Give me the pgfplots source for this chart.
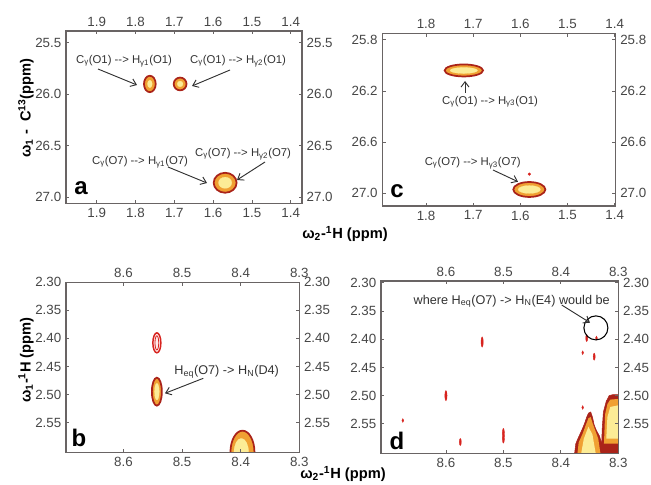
\documentclass[border=0pt]{standalone}
\usepackage{pgfplots}
\pgfplotsset{compat=1.18}
\usepackage{fontspec}
\setmainfont{Liberation Sans}
\usetikzlibrary{arrows.meta}
\definecolor{dred}{RGB}{170,35,25}
\definecolor{ora}{RGB}{240,160,50}
\definecolor{yel}{RGB}{252,236,150}
\definecolor{boxc}{RGB}{105,100,100}
\definecolor{tkc}{RGB}{70,70,70}
\definecolor{anc}{RGB}{50,50,50}
\definecolor{nred}{RGB}{215,35,30}
\pgfplotsset{
  panel/.style={
    scale only axis, anchor=north west,
    x dir=reverse, y dir=reverse,
    axis line style={boxc, line width=1.1pt},
    tick style={boxc, line width=0.6pt},
    major tick length=2.5pt,
    tick align=inside,
    ticklabel style={font=\fontsize{10}{11}\selectfont, text=tkc},
    /pgf/number format/assume math mode=true,
    xticklabel pos=lower, yticklabel pos=left,
    clip marker paths=true,
  },
  upper/.style={panel, xticklabel pos=upper, yticklabel pos=right},
  pk/.style={only marks, mark=*, mark options={draw=dred, fill=ora, line width=1.3pt, #1}},
  pk/.default={},
  pc/.style={only marks, mark=*, mark options={draw=yel, fill=yel, line width=0.1pt, #1}},
  pc/.default={},
  dash/.style={only marks, color=nred, mark=*, mark options={draw=nred, fill=nred, line width=0.3pt, yscale=#1}},
}
\begin{document}
\begin{tikzpicture}
\useasboundingbox (0,0) rectangle (488.25pt,-363.75pt);

% ---------- panel a ----------
\begin{axis}[panel, at={(49.5pt,-23.25pt)}, width=177pt, height=129.2pt,
  xmin=1.371, xmax=1.979, ymin=25.386, ymax=27.058,
  xtick={1.4,1.5,1.6,1.7,1.8,1.9}, xticklabels={1.4,1.5,1.6,1.7,1.8,1.9},
  ytick={25.5,26,26.5,27}, yticklabels={25.5,26.0,26.5,27.0}]
\addplot[pk={yscale=1.4}, mark size=4.4pt] coordinates {(1.763,25.90)};
\addplot[pc={yscale=1.6}, mark size=1.8pt] coordinates {(1.763,25.90)};
\addplot[pk, mark size=4.8pt] coordinates {(1.685,25.90)};
\addplot[pc, mark size=2.2pt] coordinates {(1.685,25.90)};
\addplot[pk={yscale=0.87}, mark size=8.6pt] coordinates {(1.569,26.859)};
\addplot[pc={yscale=0.85}, mark size=5pt] coordinates {(1.569,26.859)};
\end{axis}
\begin{axis}[upper, at={(49.5pt,-23.25pt)}, width=177pt, height=129.2pt,
  xmin=1.371, xmax=1.979, ymin=25.386, ymax=27.058,
  xtick={1.4,1.5,1.6,1.7,1.8,1.9}, xticklabels={1.4,1.5,1.6,1.7,1.8,1.9},
  ytick={25.5,26,26.5,27}, yticklabels={25.5,26.0,26.5,27.0}]
\end{axis}

% ---------- panel c ----------
\begin{axis}[panel, at={(286.7pt,-25pt)}, width=175pt, height=129.5pt,
  xmin=1.398, xmax=1.893, ymin=25.75, ymax=27.099,
  xtick={1.4,1.5,1.6,1.7,1.8}, xticklabels={1.4,1.5,1.6,1.7,1.8},
  ytick={25.8,26.2,26.6,27.0}, yticklabels={25.8,26.2,26.6,27.0}]
\addplot[pk={xscale=3.2}, mark size=4.5pt] coordinates {(1.72,26.04)};
\addplot[pc={xscale=4.5}, mark size=2.3pt] coordinates {(1.72,26.04)};
\addplot[pk={xscale=2.15}, mark size=5.6pt] coordinates {(1.581,26.97)};
\addplot[pc={xscale=2.8}, mark size=3pt] coordinates {(1.581,26.97)};
\addplot[dash=1, mark size=1pt] coordinates {(1.581,26.85)};
\end{axis}
\begin{axis}[upper, at={(286.7pt,-25pt)}, width=175pt, height=129.5pt,
  xmin=1.398, xmax=1.893, ymin=25.75, ymax=27.099,
  xtick={1.4,1.5,1.6,1.7,1.8}, xticklabels={1.4,1.5,1.6,1.7,1.8},
  ytick={25.8,26.2,26.6,27.0}, yticklabels={25.8,26.2,26.6,27.0}]
\end{axis}

% ---------- panel b ----------
\begin{axis}[panel, at={(49.5pt,-211.7pt)}, width=175pt, height=127.5pt,
  xmin=8.3, xmax=8.698, ymin=2.30, ymax=2.603,
  xtick={8.3,8.4,8.5,8.6}, xticklabels={8.3,8.4,8.5,8.6},
  ytick={2.30,2.35,2.40,2.45,2.50,2.55}, yticklabels={2.30,2.35,2.40,2.45,2.50,2.55}]
\addplot[only marks, color=nred, mark=*, mark size=3pt, mark options={yscale=2.5, draw=nred, fill=red!8, line width=1.1pt}] coordinates {(8.543,2.408)};
\addplot[only marks, color=nred, mark=o, mark size=1.4pt, mark options={yscale=3.8, draw=nred, line width=0.6pt}] coordinates {(8.543,2.408)};
\addplot[pk={yscale=2.8}, mark size=3.75pt] coordinates {(8.543,2.495)};
\addplot[pc={yscale=3.5}, mark size=1.8pt] coordinates {(8.543,2.495)};
\addplot[pk={yscale=1.8}, mark size=9pt] coordinates {(8.397,2.603)};
\addplot[pc={yscale=1.9}, mark size=5.5pt] coordinates {(8.399,2.603)};
\end{axis}
\begin{axis}[upper, at={(49.5pt,-211.7pt)}, width=175pt, height=127.5pt,
  xmin=8.3, xmax=8.698, ymin=2.30, ymax=2.603,
  xtick={8.3,8.4,8.5,8.6}, xticklabels={8.3,8.4,8.5,8.6},
  ytick={2.30,2.35,2.40,2.45,2.50,2.55}, yticklabels={2.30,2.35,2.40,2.45,2.50,2.55}]
\end{axis}

% ---------- panel d ----------
\begin{axis}[panel, at={(285.75pt,-210.75pt)}, width=178pt, height=129.2pt,
  xmin=8.3, xmax=8.713, ymin=2.297, ymax=2.602,
  xtick={8.3,8.4,8.5,8.6}, xticklabels={8.3,8.4,8.5,8.6},
  ytick={2.30,2.35,2.40,2.45,2.50,2.55}, yticklabels={2.30,2.35,2.40,2.45,2.50,2.55}]
% flame-like blobs
\addplot[fill=dred, draw=dred] coordinates {(8.377,2.61)(8.374,2.585)(8.369,2.573)(8.364,2.562)(8.359,2.550)(8.355,2.538)(8.352,2.531)(8.348,2.529)(8.345,2.538)(8.342,2.552)(8.338,2.562)(8.333,2.571)(8.330,2.581)(8.326,2.590)(8.324,2.61)} --cycle;
\addplot[fill=ora, draw=none] coordinates {(8.372,2.61)(8.369,2.583)(8.362,2.567)(8.357,2.553)(8.352,2.540)(8.348,2.538)(8.345,2.548)(8.340,2.562)(8.335,2.576)(8.330,2.61)} --cycle;
\addplot[fill=yel, draw=none] coordinates {(8.366,2.61)(8.360,2.576)(8.352,2.555)(8.345,2.569)(8.338,2.61)} --cycle;
\addplot[fill=dred, draw=dred] coordinates {(8.330,2.61)(8.328,2.558)(8.326,2.529)(8.321,2.510)(8.316,2.500)(8.309,2.498)(8.29,2.498)(8.29,2.61)} --cycle;
\addplot[fill=ora, draw=none] coordinates {(8.325,2.585)(8.323,2.533)(8.319,2.515)(8.314,2.507)(8.29,2.505)(8.29,2.585)} --cycle;
\addplot[fill=yel, draw=none] coordinates {(8.321,2.576)(8.319,2.538)(8.314,2.520)(8.29,2.515)(8.29,2.576)} --cycle;
% weak noise peaks
\addplot[dash=4.5, mark size=0.85pt] coordinates {(8.537,2.405)(8.600,2.500)};
\addplot[dash=6.5, mark size=0.85pt] coordinates {(8.500,2.571)};
\addplot[dash=3.5, mark size=0.75pt] coordinates {(8.575,2.582)(8.342,2.431)(8.355,2.398)};
\addplot[dash=2, mark size=0.7pt] coordinates {(8.675,2.544)(8.362,2.424)(8.362,2.521)(8.338,2.398)};
% empty circle where the missing peak would be
\addplot[only marks, color=black, mark=o, mark size=9pt, mark options={draw=black, line width=0.8pt}] coordinates {(8.339,2.380)};
\end{axis}
\begin{axis}[upper, at={(285.75pt,-210.75pt)}, width=178pt, height=129.2pt,
  xmin=8.3, xmax=8.713, ymin=2.297, ymax=2.602,
  xtick={8.3,8.4,8.5,8.6}, xticklabels={8.3,8.4,8.5,8.6},
  ytick={2.30,2.35,2.40,2.45,2.50,2.55}, yticklabels={2.30,2.35,2.40,2.45,2.50,2.55}]
\end{axis}

% ---------- annotations (pixel units) ----------
\begin{scope}[x=0.75pt, y=-0.75pt,
  ann/.style={font=\fontsize{8.5}{9}\selectfont, text=anc, inner sep=0pt},
  ann2/.style={font=\fontsize{9.5}{10}\selectfont, text=anc, inner sep=0pt},
  arr/.style={draw=anc, line width=0.7pt, -{Straight Barb[length=4pt,width=6pt]}},
  let/.style={font=\fontsize{18}{18}\selectfont\bfseries, text=black, inner sep=0pt},
  lab/.style={font=\fontsize{11}{12}\selectfont\bfseries, text=black, inner sep=0pt}]
\node[ann] at (124,61) {C\textsubscript{γ}(O1) -{}-{}> H\textsubscript{γ1}(O1)};
\node[ann] at (238,61) {C\textsubscript{γ}(O1) -{}-{}> H\textsubscript{γ2}(O1)};
\draw[arr] (98,69) -- (137,85);
\draw[arr] (230,70) -- (192,86);
\node[ann] at (140,162) {C\textsubscript{γ}(O7) -{}-{}> H\textsubscript{γ1}(O7)};
\node[ann] at (243,154) {C\textsubscript{γ}(O7) -{}-{}> H\textsubscript{γ2}(O7)};
\draw[arr] (168,167) -- (207,183);
\draw[arr] (265,162) -- (237,180);
\node[ann] at (490,101.7) {C\textsubscript{γ}(O1) -{}-{}> H\textsubscript{γ3}(O1)};
\draw[arr] (465,93) -- (465,81);
\node[ann] at (472.7,163.3) {C\textsubscript{γ}(O7) -{}-{}> H\textsubscript{γ3}(O7)};
\draw[arr] (493,170) -- (518,181.7);
\node[ann2] at (226.7,371.7) {H\textsubscript{eq}(O7) -> H\textsubscript{N}(D4)};
\draw[arr] (203.3,378.3) -- (165,393.3);
\node[ann2] at (511.7,301) {where H\textsubscript{eq}(O7) -> H\textsubscript{N}(E4) would be};
\draw[arr] (561.7,305) -- (590,322.7);
\node[let] at (81,188) {a};
\node[let] at (397,191) {c};
\node[let] at (79,438) {b};
\node[let] at (397,441) {d};
\node[lab, rotate=90] at (26,108) {ω\textsubscript{1} -\ \ C\textsuperscript{13}(ppm)};
\node[lab] at (345,234) {ω\textsubscript{2}-\textsuperscript{1}H (ppm)};
\node[lab, rotate=90] at (26,360) {ω\textsubscript{1}-\textsuperscript{1}H (ppm)};
\node[lab] at (343,474) {ω\textsubscript{2}-\textsuperscript{1}H (ppm)};
\end{scope}
\end{tikzpicture}
\end{document}
